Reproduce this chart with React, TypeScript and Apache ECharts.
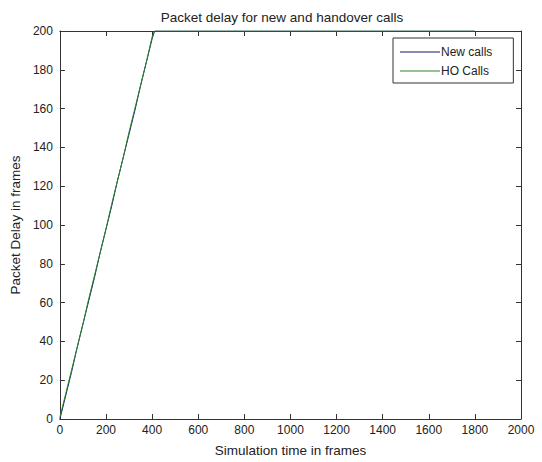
import React, { useEffect, useRef } from "react";
import * as echarts from "echarts";

const seriesNames = ["New calls", "HO Calls"];
const newCallsX = [0, 25, 50, 75, 100, 125, 150, 175, 200, 225, 250, 275, 300, 325, 350, 375, 400, 410, 1800];
const newCallsY = [0, 12, 24, 37, 49, 61, 73, 86, 98, 110, 123, 135, 147, 159, 172, 184, 196, 200, 200];
const hoCallsX = [0, 25, 50, 75, 100, 125, 150, 175, 200, 225, 250, 275, 300, 325, 350, 375, 400, 412, 1800];
const hoCallsY = [1, 13, 25, 37, 49, 62, 74, 86, 98, 111, 123, 135, 148, 160, 172, 184, 197, 200, 200];
const xTicks = [0, 200, 400, 600, 800, 1000, 1200, 1400, 1600, 1800, 2000];
const yTicks = [0, 20, 40, 60, 80, 100, 120, 140, 160, 180, 200];

const FONT = "Liberation Sans, Arial, Helvetica, sans-serif";
const TXT = "#222";
const AX = "#333";
const BLUE = "#14146e";
const GREEN = "#2a862a";
const BIG = 13.5;

export default function App() {
  const ref = useRef<HTMLDivElement>(null);
  useEffect(() => {
    if (!ref.current) return;
    const chart = echarts.init(ref.current, undefined, { renderer: "svg" });
    const zip = (xs: number[], ys: number[]) => xs.map((x, i) => [x, ys[i]]);
    const axisCommon = {
      min: 0,
      splitLine: { show: false },
      axisLine: { show: true, onZero: false, lineStyle: { color: AX, width: 1 } },
      axisTick: { show: true, inside: true, length: 5, lineStyle: { color: AX } },
    };
    chart.setOption({
      animation: false,
      backgroundColor: "#fff",
      textStyle: { fontFamily: FONT },
      title: {
        text: "Packet delay for new and handover calls",
        left: 277,
        top: 5,
        textAlign: "center",
        textStyle: { fontSize: BIG, fontWeight: "normal", color: TXT, fontFamily: FONT },
      },
      grid: { left: 59, right: 21, top: 31, bottom: 40 },
      legend: {
        data: seriesNames,
        orient: "vertical",
        left: 393,
        top: 38,
        icon: "rect",
        itemWidth: 40,
        itemHeight: 1,
        itemGap: 5,
        padding: [7, 21, 5, 7],
        borderColor: AX,
        borderWidth: 1,
        borderRadius: 0,
        backgroundColor: "#fff",
        textStyle: { fontSize: 12, color: TXT, fontFamily: FONT, lineHeight: 14, padding: [0, 0, 0, -4] },
      },
      xAxis: [
        {
          ...axisCommon,
          type: "value",
          max: 2000,
          interval: 200,
          position: "bottom",
          name: "Simulation time in frames",
          nameLocation: "middle",
          nameGap: 24,
          nameTextStyle: { fontSize: BIG, color: TXT, fontFamily: FONT },
          axisLabel: {
            color: TXT,
            fontSize: 12,
            margin: 5,
            formatter: (v: number) => (xTicks.includes(v) ? String(v) : ""),
          },
        },
        {
          ...axisCommon,
          type: "value",
          max: 2000,
          interval: 200,
          position: "top",
          axisLabel: { show: false },
        },
      ],
      yAxis: [
        {
          ...axisCommon,
          type: "value",
          max: 200,
          interval: 20,
          position: "left",
          name: "Packet Delay in frames",
          nameLocation: "middle",
          nameGap: 34,
          nameTextStyle: { fontSize: BIG, color: TXT, fontFamily: FONT },
          axisLabel: {
            color: TXT,
            fontSize: 12,
            margin: 7,
            formatter: (v: number) => (yTicks.includes(v) ? String(v) : ""),
          },
        },
        {
          ...axisCommon,
          type: "value",
          max: 200,
          interval: 20,
          position: "right",
          axisLabel: { show: false },
        },
      ],
      series: [
        {
          name: seriesNames[0],
          type: "line",
          data: zip(newCallsX, newCallsY),
          symbol: "none",
          lineStyle: { color: BLUE, width: 1 },
          itemStyle: { color: BLUE },
        },
        {
          name: seriesNames[1],
          type: "line",
          data: zip(hoCallsX, hoCallsY),
          symbol: "none",
          lineStyle: { color: GREEN, width: 1 },
          itemStyle: { color: GREEN },
        },
      ],
    });
    return () => chart.dispose();
  }, []);
  return (
    <div
      ref={ref}
      style={{ position: "absolute", left: 0, top: 0, width: 542, height: 462 }}
    />
  );
}
